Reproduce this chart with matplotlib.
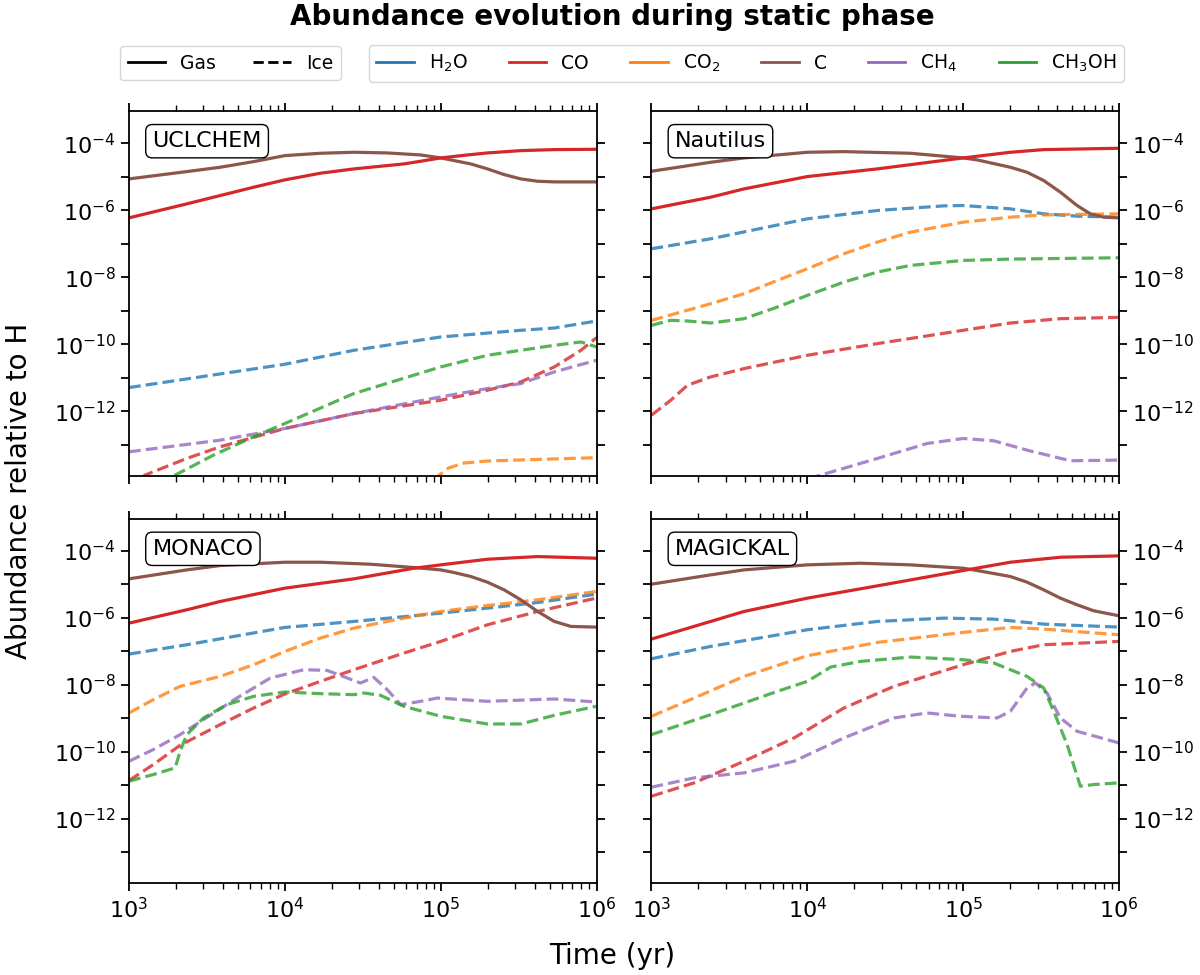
import numpy as np
import matplotlib
matplotlib.use("Agg")
import matplotlib.pyplot as plt
from matplotlib.lines import Line2D
from matplotlib.ticker import NullLocator, NullFormatter, FixedLocator, FixedFormatter

# ---------------- data (log10 time [yr], log10 abundance) ----------------
# UCLCHEM
ucl_C_t = [3.0, 3.371, 3.585, 3.8, 4.0, 4.228, 4.443, 4.657, 4.871, 5.0, 5.193, 5.3, 5.407, 5.514, 5.622, 5.729, 6.0]
ucl_C_y = [-5.064, -4.845, -4.716, -4.547, -4.368, -4.298, -4.268, -4.288, -4.348, -4.437, -4.616, -4.765, -4.934, -5.064, -5.134, -5.153, -5.153]
ucl_COg_t = [3.0, 3.371, 3.585, 3.8, 4.0, 4.228, 4.443, 4.657, 4.764, 4.871, 5.0, 5.193, 5.3, 5.514, 5.729, 6.0]
ucl_COg_y = [-6.227, -5.809, -5.561, -5.312, -5.093, -4.894, -4.765, -4.666, -4.616, -4.537, -4.437, -4.338, -4.288, -4.219, -4.189, -4.179]
ucl_H2O_t = [3.0, 4.0, 4.443, 5.0, 5.514, 5.729, 6.0]
ucl_H2O_y = [-11.296, -10.6, -10.183, -9.785, -9.586, -9.517, -9.308]
ucl_CH3OH_t = [3.0, 3.296, 3.542, 3.8, 4.0, 4.443, 5.0, 5.3, 5.729, 5.9, 6.0]
ucl_CH3OH_y = [-14.6, -13.911, -13.314, -12.767, -12.37, -11.475, -10.68, -10.332, -10.034, -9.935, -10.083]
ucl_COi_t = [3.0, 3.103, 3.371, 3.585, 4.0, 4.443, 5.0, 5.3, 5.514, 5.729, 5.9, 6.0]
ucl_COi_y = [-14.3, -13.91, -13.413, -13.066, -12.519, -12.072, -11.674, -11.376, -11.127, -10.68, -10.183, -9.805]
ucl_CH4_t = [3.0, 3.585, 4.0, 4.443, 5.0, 5.3, 5.514, 5.729, 6.0]
ucl_CH4_y = [-13.215, -12.867, -12.519, -12.072, -11.575, -11.326, -11.177, -10.829, -10.481]
ucl_CO2_t = [4.9, 4.98, 5.05, 5.15, 5.3, 5.5, 6.0]
ucl_CO2_y = [-14.5, -13.95, -13.7, -13.55, -13.49, -13.46, -13.39]

# Nautilus
nau_C_t = [3.0, 3.38, 3.594, 4.0, 4.235, 4.662, 5.0, 5.091, 5.303, 5.41, 5.517, 5.624, 5.731, 5.816, 5.902, 6.0]
nau_C_y = [-4.835, -4.567, -4.437, -4.268, -4.249, -4.298, -4.437, -4.497, -4.716, -4.865, -5.113, -5.461, -5.859, -6.107, -6.207, -6.227]
nau_COg_t = [3.0, 3.38, 3.594, 4.0, 4.449, 5.0, 5.303, 5.517, 6.0]
nau_COg_y = [-5.958, -5.61, -5.362, -4.994, -4.765, -4.437, -4.268, -4.189, -4.149]
nau_H2O_t = [3.0, 3.38, 4.0, 4.449, 4.876, 5.0, 5.303, 5.517, 5.731, 6.0]
nau_H2O_y = [-7.151, -6.853, -6.256, -6.008, -5.869, -5.859, -5.958, -6.107, -6.177, -6.207]
nau_CO2_t = [3.0, 3.38, 3.594, 3.808, 4.0, 4.235, 4.449, 4.662, 5.0, 5.303, 5.517, 6.0]
nau_CO2_y = [-9.288, -8.791, -8.493, -8.095, -7.748, -7.3, -6.952, -6.654, -6.356, -6.207, -6.137, -6.107]
nau_CH3OH_t = [3.0, 3.124, 3.231, 3.38, 3.594, 3.808, 4.0, 4.235, 4.449, 4.662, 5.0, 5.303, 6.0]
nau_CH3OH_y = [-9.437, -9.288, -9.308, -9.368, -9.239, -8.891, -8.543, -8.145, -7.847, -7.648, -7.499, -7.459, -7.419]
nau_COi_t = [3.0, 3.124, 3.231, 3.38, 3.594, 4.0, 4.449, 5.0, 5.303, 5.624, 6.0]
nau_COi_y = [-12.121, -11.674, -11.227, -10.978, -10.73, -10.332, -9.984, -9.586, -9.368, -9.239, -9.199]
nau_CH4_t = [3.8, 4.085, 4.449, 4.769, 5.0, 5.197, 5.41, 5.688, 6.0]
nau_CH4_y = [-14.3, -13.911, -13.414, -12.966, -12.817, -12.887, -13.165, -13.483, -13.463]

# MONACO
mon_C_t = [3.0, 3.371, 3.585, 4.0, 4.228, 4.55, 4.829, 5.0, 5.086, 5.193, 5.3, 5.407, 5.514, 5.622, 5.729, 5.836, 5.997]
mon_C_y = [-4.835, -4.567, -4.437, -4.338, -4.338, -4.398, -4.497, -4.567, -4.646, -4.765, -4.934, -5.163, -5.461, -5.809, -6.107, -6.256, -6.276]
mon_COg_t = [3.0, 3.371, 3.585, 4.0, 4.443, 4.829, 5.0, 5.3, 5.622, 5.997]
mon_COg_y = [-6.157, -5.759, -5.511, -5.113, -4.835, -4.517, -4.417, -4.249, -4.169, -4.219]
mon_H2O_t = [3.0, 3.371, 4.0, 4.443, 5.0, 5.3, 5.622, 5.997]
mon_H2O_y = [-7.082, -6.803, -6.286, -6.107, -5.859, -5.71, -5.541, -5.292]
mon_CO2_t = [3.0, 3.156, 3.328, 3.585, 3.8, 4.0, 4.228, 4.443, 4.764, 5.0, 5.3, 5.622, 5.997]
mon_CO2_y = [-8.841, -8.443, -8.046, -7.748, -7.4, -7.002, -6.604, -6.306, -6.008, -5.809, -5.63, -5.461, -5.213]
mon_COi_t = [3.0, 3.156, 3.328, 3.585, 3.8, 4.0, 4.228, 4.443, 4.764, 5.0, 5.3, 5.622, 5.997]
mon_COi_y = [-10.859, -10.382, -9.805, -9.189, -8.692, -8.274, -7.897, -7.549, -7.052, -6.704, -6.207, -5.809, -5.412]
mon_CH4_t = [3.0, 3.156, 3.328, 3.478, 3.692, 3.907, 4.121, 4.271, 4.4, 4.486, 4.571, 4.657, 4.743, 4.871, 4.979, 5.3, 5.729, 5.997]
mon_CH4_y = [-10.282, -9.934, -9.487, -9.04, -8.394, -7.797, -7.549, -7.569, -7.797, -7.946, -7.777, -8.145, -8.592, -8.493, -8.394, -8.493, -8.423, -8.513]
mon_CH3OH_t = [3.0, 3.156, 3.296, 3.328, 3.371, 3.478, 3.628, 3.8, 4.0, 4.228, 4.443, 4.507, 4.614, 4.764, 5.0, 5.3, 5.514, 5.729, 5.997]
mon_CH3OH_y = [-10.879, -10.68, -10.481, -9.984, -9.487, -8.99, -8.592, -8.344, -8.215, -8.264, -8.294, -8.244, -8.314, -8.642, -8.94, -9.169, -9.169, -8.911, -8.642]

# MAGICKAL
mag_C_t = [3.0, 3.38, 3.594, 4.0, 4.342, 4.662, 5.0, 5.09, 5.303, 5.41, 5.517, 5.624, 5.731, 5.838, 6.0]
mag_C_y = [-4.994, -4.716, -4.567, -4.417, -4.368, -4.417, -4.517, -4.586, -4.765, -4.934, -5.163, -5.412, -5.61, -5.789, -5.938]
mag_COg_t = [3.0, 3.38, 3.594, 4.0, 4.449, 5.0, 5.303, 5.624, 6.0]
mag_COg_y = [-6.634, -6.107, -5.809, -5.412, -5.044, -4.586, -4.338, -4.189, -4.149]
mag_H2O_t = [3.0, 3.38, 4.0, 4.449, 4.876, 5.197, 5.517, 6.0]
mag_H2O_y = [-7.221, -6.853, -6.356, -6.107, -6.008, -6.038, -6.187, -6.276]
mag_CO2_t = [3.0, 3.274, 3.594, 4.0, 4.449, 5.0, 5.303, 5.517, 6.0]
mag_CO2_y = [-8.94, -8.394, -7.748, -7.131, -6.734, -6.435, -6.286, -6.336, -6.505]
mag_COi_t = [3.0, 3.274, 3.594, 3.915, 4.235, 4.556, 5.0, 5.303, 5.517, 6.0]
mag_COi_y = [-11.326, -10.928, -10.282, -9.586, -8.692, -8.046, -7.4, -7.002, -6.803, -6.704]
mag_CH3OH_t = [3.0, 3.38, 3.808, 4.0, 4.15, 4.342, 4.662, 5.0, 5.197, 5.41, 5.517, 5.581, 5.667, 5.752, 5.838, 6.0]
mag_CH3OH_y = [-9.487, -8.891, -8.195, -7.897, -7.469, -7.3, -7.171, -7.25, -7.35, -7.748, -8.095, -8.791, -9.785, -11.028, -10.978, -10.928]
mag_CH4_t = [3.0, 3.274, 3.594, 3.915, 4.235, 4.556, 4.769, 4.983, 5.218, 5.303, 5.41, 5.464, 5.538, 5.624, 5.731, 6.0]
mag_CH4_y = [-11.058, -10.779, -10.63, -10.282, -9.586, -8.99, -8.841, -8.94, -8.99, -8.791, -8.095, -7.946, -8.244, -8.99, -9.388, -9.736]

code_names = ["UCLCHEM", "Nautilus", "MONACO", "MAGICKAL"]
species_labels = [r"H$_2$O", "CO", r"CO$_2$", "C", r"CH$_4$", r"CH$_3$OH"]
species_colors = ["tab:blue", "tab:red", "tab:orange", "tab:brown", "tab:purple", "tab:green"]
ytick_exps = [-13, -12, -11, -10, -9, -8, -7, -6, -5, -4]

panels = [
    ([(3, ucl_C_t, ucl_C_y), (1, ucl_COg_t, ucl_COg_y)],
     [(0, ucl_H2O_t, ucl_H2O_y), (2, ucl_CO2_t, ucl_CO2_y), (1, ucl_COi_t, ucl_COi_y),
      (4, ucl_CH4_t, ucl_CH4_y), (5, ucl_CH3OH_t, ucl_CH3OH_y)]),
    ([(3, nau_C_t, nau_C_y), (1, nau_COg_t, nau_COg_y)],
     [(0, nau_H2O_t, nau_H2O_y), (2, nau_CO2_t, nau_CO2_y), (1, nau_COi_t, nau_COi_y),
      (4, nau_CH4_t, nau_CH4_y), (5, nau_CH3OH_t, nau_CH3OH_y)]),
    ([(3, mon_C_t, mon_C_y), (1, mon_COg_t, mon_COg_y)],
     [(0, mon_H2O_t, mon_H2O_y), (2, mon_CO2_t, mon_CO2_y), (1, mon_COi_t, mon_COi_y),
      (4, mon_CH4_t, mon_CH4_y), (5, mon_CH3OH_t, mon_CH3OH_y)]),
    ([(3, mag_C_t, mag_C_y), (1, mag_COg_t, mag_COg_y)],
     [(0, mag_H2O_t, mag_H2O_y), (2, mag_CO2_t, mag_CO2_y), (1, mag_COi_t, mag_COi_y),
      (4, mag_CH4_t, mag_CH4_y), (5, mag_CH3OH_t, mag_CH3OH_y)]),
]

# ---------------- figure ----------------
plt.rcParams["font.family"] = ["DejaVu Sans"]
fig, axes = plt.subplots(2, 2, figsize=(12, 9.75), dpi=100, sharex=True, sharey=True)
fig.subplots_adjust(left=0.1075, right=0.9325, top=0.886, bottom=0.094,
                    wspace=0.1175, hspace=0.118)

LW = 2.3
for k, ax in enumerate(axes.flat):
    gas, ice = panels[k]
    for si, t, y in ice:
        ax.plot(10 ** np.array(t), 10 ** np.array(y), ls="--", lw=LW,
                color=species_colors[si], alpha=0.8, solid_joinstyle="round",
                dash_joinstyle="round")
    for si, t, y in gas:
        ax.plot(10 ** np.array(t), 10 ** np.array(y), ls="-", lw=LW,
                color=species_colors[si], solid_joinstyle="round")
    ax.set_xscale("log")
    ax.set_yscale("log")
    ax.set_xlim(1e3, 1e6)
    ax.set_ylim(10 ** -13.93, 10 ** -3.04)
    ax.yaxis.set_major_locator(FixedLocator([10.0 ** e for e in ytick_exps]))
    ax.yaxis.set_major_formatter(FixedFormatter(
        [r"$\mathdefault{10^{%d}}$" % e if e % 2 == 0 else "" for e in ytick_exps]))
    ax.yaxis.set_minor_locator(NullLocator())
    ax.xaxis.set_minor_formatter(NullFormatter())
    ax.tick_params(which="both", direction="out", top=True, bottom=True,
                   left=True, right=True, labelsize=16)
    ax.tick_params(which="major", length=6, width=1.3)
    ax.tick_params(which="minor", length=4, width=1.0)
    for sp in ax.spines.values():
        sp.set_linewidth(1.3)
    row, col = divmod(k, 2)
    if col == 1:
        ax.tick_params(labelleft=False, labelright=True)
    if row == 0:
        ax.tick_params(labelbottom=False)
    ax.text(0.05, 0.945, code_names[k], transform=ax.transAxes, ha="left", va="top",
            fontsize=16, zorder=5,
            bbox=dict(boxstyle="round,pad=0.3", fc="white", ec="black", lw=1.0))

fig.suptitle("Abundance evolution during static phase", fontsize=20,
             fontweight="bold", x=0.51, y=0.997)
fig.text(0.51, 0.02, "Time (yr)", ha="center", va="center", fontsize=20)
fig.text(0.016, 0.497, "Abundance relative to H", ha="center", va="center",
         rotation=90, fontsize=20)

style_handles = [Line2D([], [], color="black", ls="-", lw=2),
                 Line2D([], [], color="black", ls="--", lw=2)]
leg1 = fig.legend(style_handles, ["Gas", "Ice"], loc="center",
                  bbox_to_anchor=(0.192, 0.935), ncol=2, fontsize=13.5)
species_handles = [Line2D([], [], color=c, ls="-", lw=2) for c in species_colors]
leg2 = fig.legend(species_handles, species_labels, loc="center",
                  bbox_to_anchor=(0.622, 0.935), ncol=6, fontsize=13.5,
                  columnspacing=2.2)

fig.savefig("out.png", dpi=100)
